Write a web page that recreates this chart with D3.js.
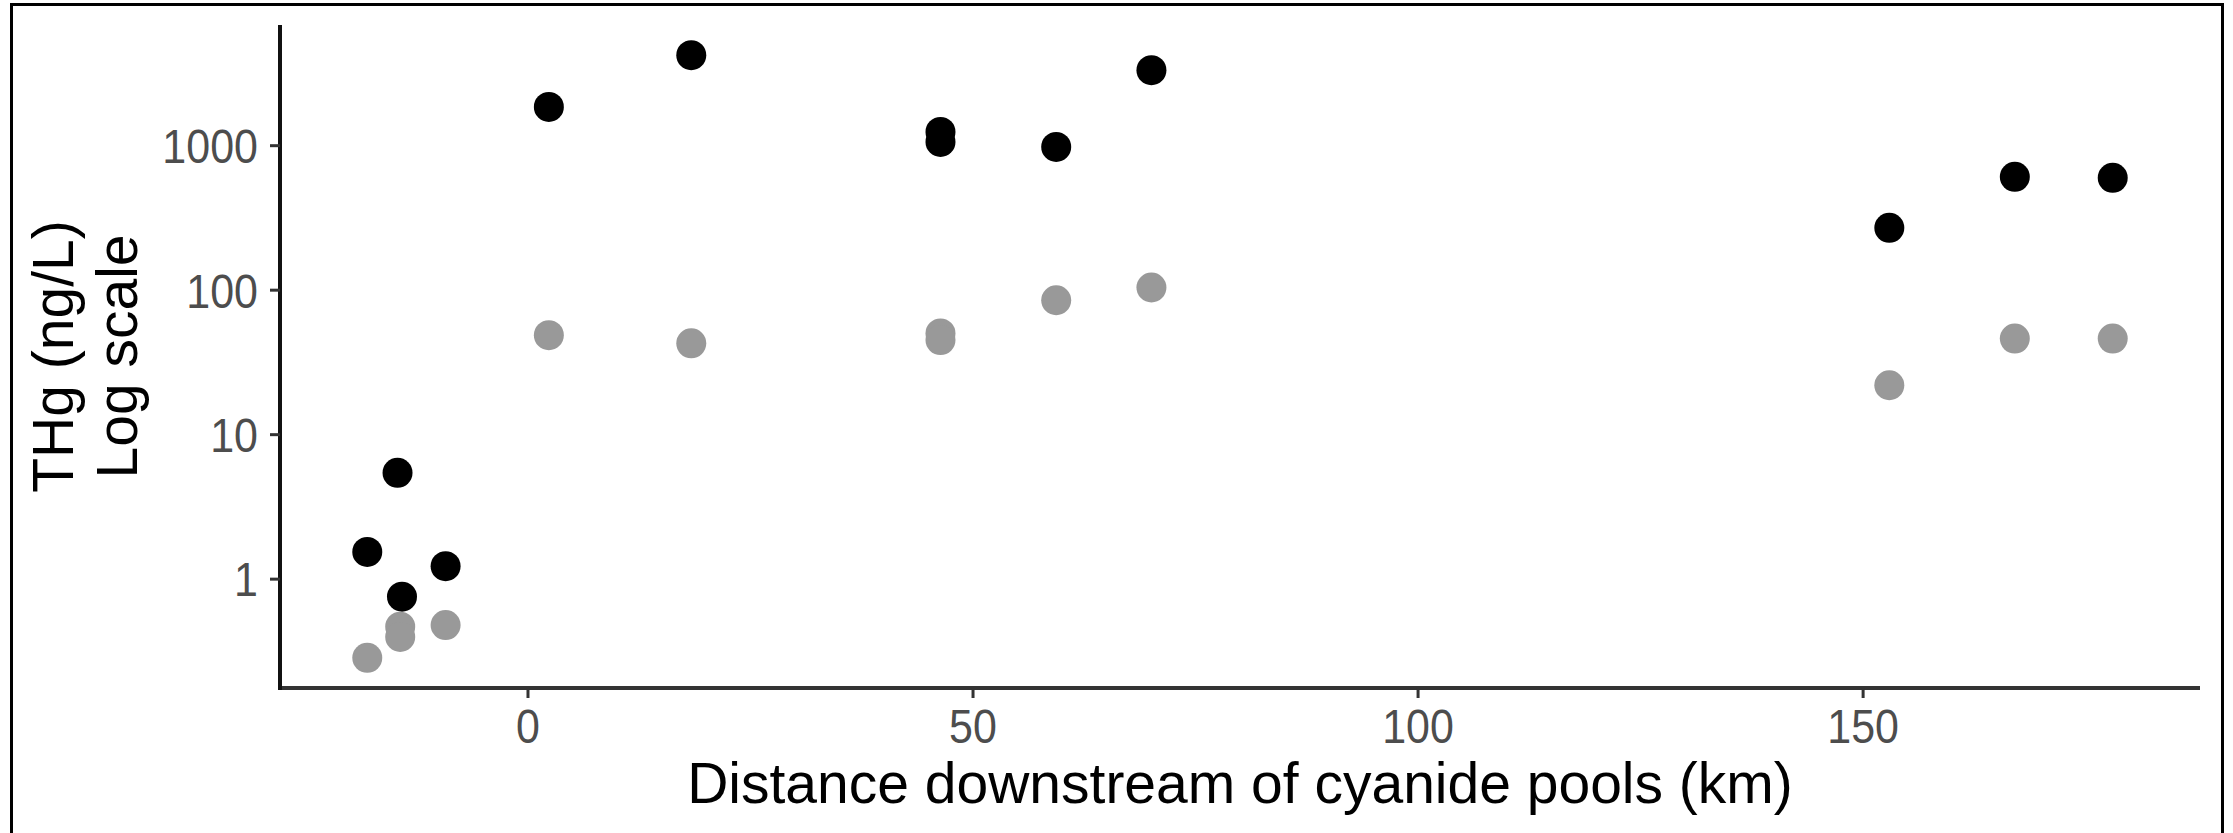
<!DOCTYPE html>
<html>
<head>
<meta charset="utf-8">
<script src="https://cdn.jsdelivr.net/npm/d3@7/dist/d3.min.js"></script>
<style>
  html, body { margin: 0; padding: 0; background: #fff; }
  svg { display: block; font-family: "Liberation Sans", Arial, sans-serif; }
</style>
</head>
<body>
<svg id="chart" width="2233" height="833"></svg>
<script>
// ---- data ----
const blackKm     = [-18.0, -14.6, -14.1, -9.2, 2.4, 18.4, 46.4, 46.4, 59.4, 70.1, 153.0, 167.1, 178.1];
const blackValues = [1.53, 5.4, 0.75, 1.22, 1840, 4200, 1236, 1054, 973, 3303, 268, 604, 594];
const greyKm      = [-18.0, -14.3, -14.3, -9.2, 2.4, 18.4, 46.4, 46.4, 59.4, 70.1, 153.0, 167.1, 178.1];
const greyValues  = [0.283, 0.465, 0.395, 0.477, 48.4, 42.5, 49.8, 44.8, 84.5, 103.5, 21.8, 45.9, 45.9];
const xTicks = [0, 50, 100, 150];
const yTicks = [1, 10, 100, 1000];
const xTitle = "Distance downstream of cyanide pools (km)";
const yTitleLines = ["THg (ng/L)", "Log scale"];

// ---- layout ----
const W = 2233, H = 833;
const panel = { left: 280, right: 2200, top: 25, bottom: 688 };

const svg = d3.select("#chart");
svg.append("rect").attr("width", W).attr("height", H).attr("fill", "#fff");

// outer frame
svg.append("rect")
  .attr("x", 11.5).attr("y", 4.5)
  .attr("width", 2211).attr("height", 850)
  .attr("fill", "none").attr("stroke", "#000").attr("stroke-width", 3);

// scales with ggplot-like 5% expansion
const allKm = blackKm.concat(greyKm);
const xMin = d3.min(allKm), xMax = d3.max(allKm), xPad = (xMax - xMin) * 0.05;
const x = d3.scaleLinear().domain([xMin - xPad, xMax + xPad]).range([panel.left, panel.right]);

const allLog = blackValues.concat(greyValues).map(v => Math.log10(v));
const lMin = d3.min(allLog), lMax = d3.max(allLog), lPad = (lMax - lMin) * 0.05;
const y = d3.scaleLog().domain([Math.pow(10, lMin - lPad), Math.pow(10, lMax + lPad)]).range([panel.bottom, panel.top]);

const k = 1.12; // vertical stretch of tick labels

// x axis
const gx = svg.append("g").attr("transform", `translate(0,${panel.bottom})`)
  .call(d3.axisBottom(x).tickValues(xTicks).tickFormat(d3.format("d")).tickSize(10).tickSizeOuter(0));
gx.select(".domain").attr("stroke", "#333").attr("stroke-width", 4)
  .attr("d", `M${panel.left},0H${panel.right}`);
gx.selectAll(".tick line").attr("stroke", "#333").attr("stroke-width", 3);
gx.selectAll(".tick text")
  .attr("fill", "#4d4d4d").attr("font-size", 43)
  .attr("y", 48.7).attr("dy", 0)
  .attr("transform", `scale(1,${k})`);

// y axis
const gy = svg.append("g").attr("transform", `translate(${panel.left},0)`)
  .call(d3.axisLeft(y).tickValues(yTicks).tickFormat(d3.format("d")).tickSize(10).tickSizeOuter(0));
gy.select(".domain").attr("stroke", "#111").attr("stroke-width", 4)
  .attr("d", `M0,${panel.top}V${panel.bottom + 2}`);
gy.selectAll(".tick line").attr("stroke", "#333").attr("stroke-width", 3);
gy.selectAll(".tick text")
  .attr("fill", "#4d4d4d").attr("font-size", 43)
  .attr("x", -22).attr("dy", "0.36em")
  .attr("transform", `scale(1,${k})`);
gy.selectAll(".tick text").attr("dy", "0.36em");
gy.selectAll(".tick, .domain").attr("font-family", null);
gx.attr("font-family", null);
gy.attr("font-family", null);

// axis titles
svg.append("text")
  .attr("x", (panel.left + panel.right) / 2).attr("y", 803)
  .attr("text-anchor", "middle").attr("font-size", 57).attr("fill", "#000")
  .text(xTitle);

const yt = svg.append("g").attr("transform", `translate(0,${(panel.top + panel.bottom) / 2}) rotate(-90)`);
yt.selectAll("text").data(yTitleLines).join("text")
  .attr("x", 0).attr("y", (d, i) => [73, 137][i])
  .attr("text-anchor", "middle").attr("font-size", 57).attr("fill", "#000")
  .text(d => d);

// points
const r = 15;
svg.append("g").selectAll("circle")
  .data(blackKm.map((d, i) => ({ km: d, v: blackValues[i] })))
  .join("circle")
  .attr("cx", d => x(d.km)).attr("cy", d => y(d.v)).attr("r", r)
  .attr("fill", "#000");
svg.append("g").selectAll("circle")
  .data(greyKm.map((d, i) => ({ km: d, v: greyValues[i] })))
  .join("circle")
  .attr("cx", d => x(d.km)).attr("cy", d => y(d.v)).attr("r", r)
  .attr("fill", "#999999");
</script>
</body>
</html>
